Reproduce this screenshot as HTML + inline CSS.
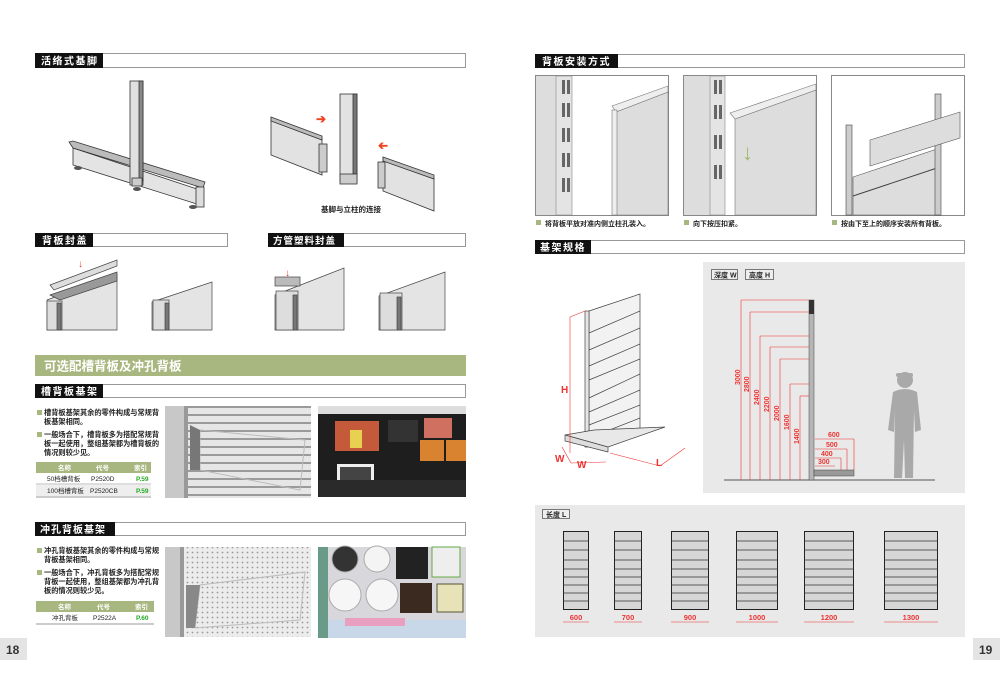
<!DOCTYPE html>
<html><head><meta charset="utf-8"><style>
html,body{margin:0;padding:0;background:#fff;}
svg{display:block;font-family:"Liberation Sans","Noto Sans CJK SC",sans-serif;}
</style></head><body>
<svg width="1000" height="674" viewBox="0 0 1000 674" xmlns="http://www.w3.org/2000/svg">
<defs>
<pattern id="slat" width="10" height="8" patternUnits="userSpaceOnUse"><rect width="10" height="8" fill="#e6e6e6"/><rect y="6" width="10" height="2" fill="#9a9a9a"/></pattern>
<pattern id="perf" width="5" height="5" patternUnits="userSpaceOnUse"><rect width="5" height="5" fill="#ececec"/><circle cx="2.5" cy="2.5" r="0.9" fill="#999"/></pattern>
</defs>

<!-- LEFT PAGE HEADERS -->
<rect x="35.5" y="53.5" width="430" height="14" fill="#fff" stroke="#999"/>
<rect x="35" y="53" width="68" height="15" fill="#111"/>
<text x="41" y="64.5" fill="#fff" font-size="10" font-weight="bold" letter-spacing="1.5">活络式基脚</text>

<rect x="35.5" y="233.5" width="192" height="13" fill="#fff" stroke="#999"/>
<rect x="35" y="233" width="58" height="14" fill="#111"/>
<text x="42" y="244" fill="#fff" font-size="10" font-weight="bold" letter-spacing="1.5">背板封盖</text>

<rect x="268.5" y="233.5" width="197" height="13" fill="#fff" stroke="#999"/>
<rect x="268" y="233" width="76" height="14" fill="#111"/>
<text x="273" y="244" fill="#fff" font-size="9.5" font-weight="bold" letter-spacing="1">方管塑料封盖</text>

<rect x="35" y="355" width="431" height="21" fill="#a7b77f"/>
<text x="44" y="370.5" fill="#fff" font-size="12.5" font-weight="bold">可选配槽背板及冲孔背板</text>

<rect x="35.5" y="384.5" width="430" height="13" fill="#fff" stroke="#999"/>
<rect x="35" y="384" width="68" height="14" fill="#111"/>
<text x="41" y="395" fill="#fff" font-size="10" font-weight="bold" letter-spacing="1.5">槽背板基架</text>

<rect x="35.5" y="522.5" width="430" height="13" fill="#fff" stroke="#999"/>
<rect x="35" y="522" width="80" height="14" fill="#111"/>
<text x="40" y="533" fill="#fff" font-size="10" font-weight="bold" letter-spacing="1">冲孔背板基架</text>

<!-- T base drawing -->
<g stroke="#333" stroke-width="0.8">
<polygon points="73,148 200,190 200,205 73,165" fill="#e4e4e4"/>
<polygon points="69,142 73,141 205,182 203,188 73,148" fill="#bbb"/>
<rect x="130" y="81" width="13" height="104" fill="#e0e0e0"/>
<rect x="139" y="81" width="4" height="100" fill="#888"/>
<rect x="132" y="178" width="10" height="8" fill="#ccc"/>
<rect x="196" y="187" width="8" height="20" fill="#ddd"/>
</g>
<ellipse cx="78" cy="168" rx="4" ry="2" fill="#555"/>
<ellipse cx="137" cy="189" rx="4" ry="2" fill="#555"/>
<ellipse cx="193" cy="207" rx="4" ry="2" fill="#555"/>

<!-- connection drawing -->
<g stroke="#333" stroke-width="0.8">
<polygon points="271,118 322,138 322,175 271,155" fill="#e2e2e2"/>
<polygon points="271,117 322,136 322,140 271,121" fill="#bbb"/>
<rect x="319" y="144" width="8" height="28" fill="#ccc"/>
<rect x="340" y="94" width="17" height="88" fill="#e2e2e2"/>
<rect x="353" y="94" width="4" height="80" fill="#777"/>
<rect x="340" y="174" width="17" height="10" fill="#ccc"/>
<polygon points="383,158 434,178 434,211 383,191" fill="#e2e2e2"/>
<polygon points="383,157 434,175 434,179 383,161" fill="#bbb"/>
<rect x="378" y="162" width="7" height="26" fill="#ccc"/>
</g>
<text x="316" y="123" fill="#e42" font-size="12" font-weight="bold">➔</text>
<text x="400" y="150" fill="#e42" font-size="12" font-weight="bold" transform="rotate(180 394 146)">➔</text>
<text x="321" y="212" font-size="7.5" font-weight="bold" fill="#222">基脚与立柱的连接</text>

<!-- small cap images -->
<g stroke="#444" stroke-width="0.7">
<polygon points="47,300 117,274 117,330 47,330" fill="#e4e4e4"/>
<polygon points="50,295 117,272 117,281 60,300" fill="#999"/>
<polygon points="50,285 117,260 117,266 54,290" fill="#ddd"/>
<rect x="47" y="301" width="15" height="29" fill="#ddd"/>
<rect x="57" y="303" width="4" height="27" fill="#777"/>
<polygon points="152,302 212,282 212,330 152,330" fill="#e4e4e4"/>
<rect x="153" y="300" width="16" height="30" fill="#ddd"/>
<rect x="165" y="303" width="4" height="27" fill="#777"/>
<polygon points="275,295 344,268 344,330 275,330" fill="#e4e4e4"/>
<rect x="276" y="291" width="22" height="39" fill="#ddd"/>
<rect x="293" y="295" width="4" height="35" fill="#777"/>
<rect x="275" y="277" width="25" height="9" fill="#bbb"/>
<polygon points="379,296 445,272 445,330 379,330" fill="#e4e4e4"/>
<rect x="380" y="293" width="22" height="37" fill="#ddd"/>
<rect x="397" y="297" width="4" height="33" fill="#777"/>
</g>
<text x="78" y="267" fill="#e42" font-size="10" font-weight="bold">↓</text>
<text x="285" y="276" fill="#e42" font-size="10" font-weight="bold">↓</text>

<!-- slot panel text -->
<g font-size="7.2" font-weight="bold" fill="#222">
<rect x="37" y="410" width="5" height="5" fill="#a7b77f"/>
<text x="44" y="415">槽背板基架其余的零件构成与常规背</text>
<text x="44" y="424">板基架相同。</text>
<rect x="37" y="432" width="5" height="5" fill="#a7b77f"/>
<text x="44" y="437">一般场合下，槽背板多为搭配常规背</text>
<text x="44" y="446">板一起使用，整组基架都为槽背板的</text>
<text x="44" y="455">情况则较少见。</text>
</g>
<rect x="36" y="462" width="115" height="11" fill="#a7b77f"/>
<g font-size="6.5" font-weight="bold" fill="#fff"><text x="58" y="470">名称</text><text x="96" y="470">代号</text><text x="134" y="470">索引</text></g>
<line x1="36" y1="484" x2="151" y2="484" stroke="#bbb"/>
<rect x="36" y="485" width="115" height="11" fill="#eee"/>
<line x1="36" y1="497" x2="151" y2="497" stroke="#999"/>
<g font-size="6.5" fill="#222"><text x="47" y="481">50档槽背板</text><text x="91" y="481">P2520D</text><text x="47" y="493">100档槽背板</text><text x="90" y="493">P2520CB</text></g>
<g font-size="6.5" font-weight="bold" fill="#2a2"><text x="136" y="481">P.59</text><text x="136" y="493">P.59</text></g>

<!-- slot photo -->
<rect x="165" y="406" width="146" height="92" fill="url(#slat)"/>
<rect x="165" y="406" width="22" height="92" fill="#c8c8c8"/>
<rect x="184" y="406" width="4" height="92" fill="#999"/>
<polygon points="200,430 305,440 300,490 200,470" fill="url(#slat)" stroke="#bbb"/>
<polygon points="190,425 200,430 200,470 190,470" fill="#777"/>
<!-- shop photo -->
<rect x="318" y="406" width="148" height="91" fill="#1e1e1e"/>
<rect x="318" y="406" width="148" height="8" fill="#ddd"/>
<rect x="335" y="421" width="44" height="30" fill="#c45a3a"/>
<rect x="350" y="430" width="12" height="18" fill="#e8d050"/>
<rect x="337" y="464" width="37" height="30" fill="#eee"/>
<rect x="340" y="467" width="31" height="23" fill="#444"/>
<rect x="388" y="420" width="30" height="22" fill="#333"/>
<rect x="424" y="418" width="28" height="20" fill="#d07060"/>
<rect x="420" y="440" width="24" height="21" fill="#d9822f"/>
<rect x="446" y="440" width="20" height="21" fill="#d9822f"/>
<rect x="318" y="480" width="148" height="17" fill="#2a2a2a"/>

<!-- perforated text -->
<g font-size="7.2" font-weight="bold" fill="#222">
<rect x="37" y="548" width="5" height="5" fill="#a7b77f"/>
<text x="44" y="553">冲孔背板基架其余的零件构成与常规</text>
<text x="44" y="562">背板基架相同。</text>
<rect x="37" y="570" width="5" height="5" fill="#a7b77f"/>
<text x="44" y="575">一般场合下，冲孔背板多为搭配常规</text>
<text x="44" y="584">背板一起使用，整组基架都为冲孔背</text>
<text x="44" y="593">板的情况则较少见。</text>
</g>
<rect x="36" y="601" width="118" height="11" fill="#a7b77f"/>
<g font-size="6.5" font-weight="bold" fill="#fff"><text x="58" y="609">名称</text><text x="97" y="609">代号</text><text x="135" y="609">索引</text></g>
<line x1="36" y1="624" x2="154" y2="624" stroke="#999"/>
<g font-size="6.5" fill="#222"><text x="52" y="620">冲孔背板</text><text x="93" y="620">P2522A</text></g>
<text x="136" y="620" font-size="6.5" font-weight="bold" fill="#2a2">P.60</text>

<!-- perf photo -->
<rect x="165" y="547" width="146" height="90" fill="url(#perf)"/>
<rect x="165" y="547" width="18" height="90" fill="#c8c8c8"/>
<rect x="180" y="547" width="4" height="90" fill="#999"/>
<polygon points="200,585 305,572 300,620 195,628" fill="url(#perf)" stroke="#bbb"/>
<polygon points="186,585 200,585 195,628 186,628" fill="#888"/>
<!-- clock photo -->
<rect x="318" y="547" width="148" height="91" fill="#d8d8dc"/>
<rect x="318" y="547" width="10" height="91" fill="#6a9a88"/>
<circle cx="345" cy="559" r="13" fill="#333" stroke="#aaa"/>
<circle cx="377" cy="559" r="13" fill="#f4f4f4" stroke="#aaa"/>
<rect x="396" y="547" width="32" height="32" fill="#222"/>
<rect x="432" y="547" width="28" height="30" fill="#eee" stroke="#6a4"/>
<circle cx="345" cy="595" r="16" fill="#f6f6f6" stroke="#aaa"/>
<circle cx="382" cy="595" r="16" fill="#f6f6f6" stroke="#aaa"/>
<rect x="400" y="583" width="32" height="30" fill="#3a2a20"/>
<rect x="437" y="584" width="26" height="28" fill="#e8e2b8" stroke="#553"/>
<rect x="328" y="620" width="138" height="18" fill="#c8d8e8"/>
<rect x="345" y="618" width="60" height="8" fill="#e9a0c0"/>

<!-- page number left -->
<rect x="0" y="638" width="27" height="22" fill="#e4e4e4"/>
<text x="6" y="654" font-size="12" font-weight="bold" fill="#333">18</text>

<!-- RIGHT PAGE -->
<rect x="535.5" y="54.5" width="429" height="13" fill="#fff" stroke="#999"/>
<rect x="535" y="54" width="83" height="14" fill="#111"/>
<text x="542" y="65" fill="#fff" font-size="10" font-weight="bold" letter-spacing="1.5">背板安装方式</text>

<rect x="535.5" y="240.5" width="429" height="13" fill="#fff" stroke="#999"/>
<rect x="535" y="240" width="56" height="14" fill="#111"/>
<text x="540" y="251" fill="#fff" font-size="10" font-weight="bold" letter-spacing="1.5">基架规格</text>

<!-- install img 1 -->
<rect x="535.5" y="75.5" width="133" height="140" fill="#fff" stroke="#888"/>
<rect x="536" y="76" width="20" height="139" fill="#ddd"/>
<rect x="556" y="76" width="16" height="139" fill="#e4e4e4" stroke="#888" stroke-width="0.6"/>
<g fill="#666"><rect x="562" y="80" width="3" height="14"/><rect x="567" y="80" width="3" height="14"/><rect x="562" y="103" width="3" height="14"/><rect x="567" y="103" width="3" height="14"/><rect x="562" y="128" width="3" height="14"/><rect x="567" y="128" width="3" height="14"/><rect x="562" y="153" width="3" height="14"/><rect x="567" y="153" width="3" height="14"/><rect x="562" y="178" width="3" height="14"/><rect x="567" y="178" width="3" height="14"/></g>
<polygon points="616,112 668,92 668,215 616,215" fill="#ddd" stroke="#777" stroke-width="0.6"/>
<polygon points="612,106 668,86 668,92 616,112" fill="#eee" stroke="#777" stroke-width="0.6"/>
<rect x="612" y="110" width="5" height="105" fill="#eee" stroke="#777" stroke-width="0.6"/>

<!-- install img 2 -->
<rect x="683.5" y="75.5" width="133" height="140" fill="#fff" stroke="#888"/>
<rect x="684" y="76" width="26" height="139" fill="#ddd"/>
<rect x="710" y="76" width="15" height="139" fill="#e4e4e4" stroke="#888" stroke-width="0.6"/>
<g fill="#666"><rect x="714" y="80" width="3" height="14"/><rect x="719" y="80" width="3" height="14"/><rect x="714" y="105" width="3" height="14"/><rect x="719" y="105" width="3" height="14"/><rect x="714" y="135" width="3" height="14"/><rect x="719" y="135" width="3" height="14"/><rect x="714" y="165" width="3" height="14"/><rect x="719" y="165" width="3" height="14"/></g>
<polygon points="735,119 816,90 816,215 735,215" fill="#ddd" stroke="#777" stroke-width="0.6"/>
<polygon points="730,113 816,84 816,90 735,119" fill="#eee" stroke="#777" stroke-width="0.6"/>
<text x="742" y="160" fill="#9dbb6a" font-size="22" font-weight="bold">↓</text>

<!-- install img 3 -->
<rect x="831.5" y="75.5" width="133" height="140" fill="#fff" stroke="#888"/>
<polygon points="853,177 940,148 940,215 853,215" fill="#ddd" stroke="#555" stroke-width="0.6"/>
<line x1="853" y1="196" x2="940" y2="167" stroke="#444"/>
<rect x="846" y="125" width="6" height="90" fill="#ccc" stroke="#444" stroke-width="0.6"/>
<rect x="935" y="94" width="6" height="121" fill="#ccc" stroke="#444" stroke-width="0.6"/>
<polygon points="870,140 960,112 960,138 870,166" fill="#ddd" stroke="#555" stroke-width="0.6"/>

<g font-size="7" font-weight="bold" fill="#222">
<rect x="536" y="220" width="5" height="5" fill="#a7b77f"/><text x="545" y="226">将背板平放对准内侧立柱孔装入。</text>
<rect x="684" y="220" width="5" height="5" fill="#a7b77f"/><text x="693" y="226">向下按压扣紧。</text>
<rect x="832" y="220" width="5" height="5" fill="#a7b77f"/><text x="841" y="226">按由下至上的顺序安装所有背板。</text>
</g>

<!-- shelf iso drawing -->
<g stroke="#444" stroke-width="0.7" fill="none">
<polygon points="589,311 640,294 640,428 589,446" fill="#f2f2f2"/>
<line x1="589" y1="333" x2="640" y2="311"/><line x1="589" y1="350" x2="640" y2="328"/><line x1="589" y1="366" x2="640" y2="344"/><line x1="589" y1="380" x2="640" y2="359"/><line x1="589" y1="398" x2="640" y2="374"/><line x1="589" y1="412" x2="640" y2="390"/><line x1="589" y1="425" x2="640" y2="405"/><line x1="589" y1="438" x2="640" y2="418"/>
<rect x="585" y="311" width="4" height="136" fill="#e6e6e6"/>
<polygon points="565,435 594,430 665,427 608,447" fill="#e8e8e8"/>
<polygon points="565,435 608,447 608,452 565,441" fill="#ddd"/>
</g>
<g stroke="#e33" stroke-width="0.6" fill="none">
<line x1="570" y1="317" x2="570" y2="453"/><line x1="570" y1="317" x2="585" y2="311"/>
<line x1="562" y1="447" x2="571" y2="463"/><line x1="571" y1="463" x2="606" y2="462"/>
<line x1="610" y1="453" x2="660" y2="466"/><line x1="660" y1="466" x2="685" y2="448"/>
</g>
<g font-size="10" font-weight="bold" fill="#e33"><text x="561" y="393">H</text><text x="555" y="462">W</text><text x="577" y="468">W</text><text x="656" y="466">L</text></g>

<!-- spec panel -->
<rect x="703" y="262" width="262" height="231" fill="#e9e9e9"/>
<rect x="711.5" y="269.5" width="26" height="10" fill="#eee" stroke="#777"/>
<text x="714" y="277.5" font-size="7" font-weight="bold" fill="#222">深度 W</text>
<rect x="745.5" y="269.5" width="28" height="10" fill="#eee" stroke="#777"/>
<text x="749" y="277.5" font-size="7" font-weight="bold" fill="#222">高度 H</text>
<line x1="724" y1="480" x2="935" y2="480" stroke="#555"/>
<rect x="809" y="300" width="5" height="180" fill="#b5b5b5" stroke="#444" stroke-width="0.5"/>
<rect x="809" y="300" width="5" height="14" fill="#333"/>
<g stroke="#e33" stroke-width="0.6">
<line x1="741" y1="300" x2="741" y2="480"/><line x1="741" y1="300" x2="809" y2="300"/>
<line x1="750" y1="312" x2="750" y2="480"/><line x1="750" y1="312" x2="809" y2="312"/>
<line x1="760" y1="336" x2="760" y2="480"/><line x1="760" y1="336" x2="809" y2="336"/>
<line x1="770" y1="347" x2="770" y2="480"/><line x1="770" y1="347" x2="809" y2="347"/>
<line x1="780" y1="359" x2="780" y2="480"/><line x1="780" y1="359" x2="809" y2="359"/>
<line x1="790" y1="384" x2="790" y2="480"/><line x1="790" y1="384" x2="809" y2="384"/>
<line x1="800" y1="396" x2="800" y2="480"/><line x1="800" y1="396" x2="809" y2="396"/>
<line x1="815" y1="439" x2="854" y2="439"/><line x1="854" y1="439" x2="854" y2="470"/>
<line x1="815" y1="449" x2="847" y2="449"/><line x1="847" y1="449" x2="847" y2="470"/>
<line x1="815" y1="458" x2="841" y2="458"/><line x1="841" y1="458" x2="841" y2="470"/>
<line x1="815" y1="466" x2="835" y2="466"/>
</g>
<g font-size="7" font-weight="bold" fill="#e33">
<text transform="translate(740,385) rotate(-90)">3000</text>
<text transform="translate(749,392) rotate(-90)">2800</text>
<text transform="translate(759,405) rotate(-90)">2400</text>
<text transform="translate(769,412) rotate(-90)">2200</text>
<text transform="translate(779,421) rotate(-90)">2000</text>
<text transform="translate(789,430) rotate(-90)">1600</text>
<text transform="translate(799,444) rotate(-90)">1400</text>
<text x="828" y="437">600</text><text x="826" y="447">500</text><text x="821" y="456">400</text><text x="818" y="464">300</text>
</g>
<rect x="814" y="470" width="40" height="6" fill="#999" stroke="#444" stroke-width="0.5"/>
<!-- person -->
<g fill="#a9a9a9">
<circle cx="905" cy="380" r="8"/>
<rect x="896" y="373" width="17" height="4" rx="2"/>
<path d="M893,392 Q905,386 917,392 L921,430 L915,432 L914,410 L913,478 L905,478 L904,440 L902,478 L894,478 L895,410 L894,432 L888,430 Z"/>
</g>

<!-- length panel -->
<rect x="535" y="505" width="430" height="132" fill="#e9e9e9"/>
<rect x="542.5" y="509.5" width="27" height="9" fill="#eee" stroke="#777"/>
<text x="546" y="517" font-size="7" font-weight="bold" fill="#222">长度 L</text>
<g stroke="#222" stroke-width="1" fill="#d6d6d6">
<rect x="563.5" y="531.5" width="25" height="78"/>
<rect x="614.5" y="531.5" width="27" height="78"/>
<rect x="671.5" y="531.5" width="37" height="78"/>
<rect x="736.5" y="531.5" width="41" height="78"/>
<rect x="804.5" y="531.5" width="49" height="78"/>
<rect x="884.5" y="531.5" width="53" height="78"/>
</g>
<g stroke="#333" stroke-width="0.8">
<path d="M563,541h26M563,550h26M563,560h26M563,569h26M563,577h26M563,585h26M563,593h26M563,601h26"/>
<path d="M614,541h28M614,550h28M614,560h28M614,569h28M614,577h28M614,585h28M614,593h28M614,601h28"/>
<path d="M671,541h38M671,550h38M671,560h38M671,569h38M671,577h38M671,585h38M671,593h38M671,601h38"/>
<path d="M736,541h42M736,550h42M736,560h42M736,569h42M736,577h42M736,585h42M736,593h42M736,601h42"/>
<path d="M804,541h50M804,550h50M804,560h50M804,569h50M804,577h50M804,585h50M804,593h50M804,601h50"/>
<path d="M884,541h54M884,550h54M884,560h54M884,569h54M884,577h54M884,585h54M884,593h54M884,601h54"/>
</g>
<g stroke="#e33" stroke-width="0.6">
<path d="M563,622h26M614,622h28M671,622h38M736,622h42M804,622h50M884,622h54"/>
</g>
<g font-size="7.5" font-weight="bold" fill="#e33" text-anchor="middle">
<text x="576" y="620">600</text><text x="628" y="620">700</text><text x="690" y="620">900</text><text x="757" y="620">1000</text><text x="829" y="620">1200</text><text x="911" y="620">1300</text>
</g>

<rect x="973" y="638" width="27" height="22" fill="#e4e4e4"/>
<text x="979" y="654" font-size="12" font-weight="bold" fill="#333">19</text>
</svg>
</body></html>
